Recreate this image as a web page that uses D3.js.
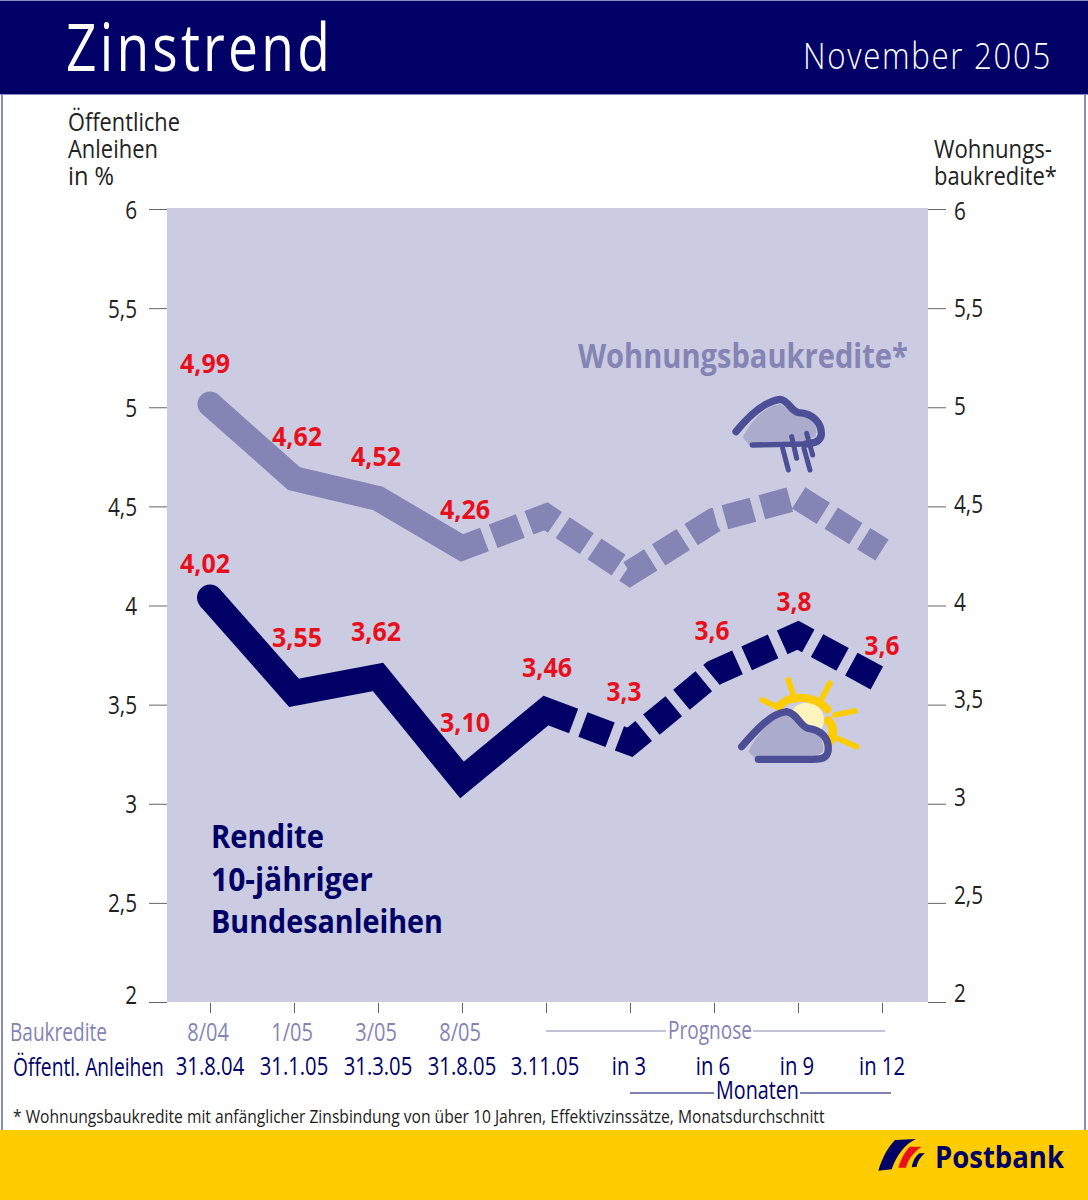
<!DOCTYPE html>
<html><head><meta charset="utf-8">
<script src="https://cdn.jsdelivr.net/npm/d3@7"></script>
<style>html,body{margin:0;padding:0;background:#fff}svg{display:block}text{font-family:"Open Sans",sans-serif}</style>
</head><body><svg id="c" width="1088" height="1200"></svg>
<script>
// ---- data ----
const periods = ["8/04","1/05","3/05","8/05","3.11.05","in 3","in 6","in 9","in 12"];
const baukrediteDates = ["8/04","1/05","3/05","8/05"];
const anleihenDates = ["31.8.04","31.1.05","31.3.05","31.8.05","3.11.05","in 3","in 6","in 9","in 12"];
const wohnungValues = [5.016,4.64,4.54,4.29,4.45,4.165,4.43,4.545,4.28];
const bundValues = [4.04,3.56,3.64,3.12,3.47,3.31,3.66,3.85,3.62];
const wohnungLabels = ["4,99","4,62","4,52","4,26"];
const bundLabels = ["4,02","3,55","3,62","3,10","3,46","3,3","3,6","3,8","3,6"];
const yTicks = [2,2.5,3,3.5,4,4.5,5,5.5,6];

// ---- layout (kept apart from the data) ----
const NAVY="#000066", LILAC="#8484B5", BG="#CBCCE1", RED="#E8101C", YEL="#FFCC00", INK="#222", OUT="#4D4F96", CLOUD="#ABACCB";
const wohnungLabelPos = [[-5,-31],[3,-33],[-2,-32],[3,-29]];
const bundLabelPos = [[-5,-25],[3,-46],[-2,-36],[3,-48],[1,-34],[-6,-41],[-2,-33],[-4,-24],[0,-26]];
const svg = d3.select("#c");
const x = d3.scalePoint().domain(d3.range(periods.length)).range([210,882]);
const y = d3.scaleLinear().domain([2,6]).range([1002,209]);
const yLabelR = d3.scaleLinear().domain([2,6]).range([992,210]);

// text drawn condensed to a given width by a horizontal scale
function txt(px,py,s,size,o={}){
  const t = svg.append("text").text(s)
    .attr("font-size",size).attr("fill",o.fill||INK).attr("font-weight",o.weight||400)
    .attr("text-anchor",o.anchor||"start");
  if(o.ls) t.attr("letter-spacing",o.ls);
  const n = t.node().getComputedTextLength();
  const sx = o.w ? o.w/n : (o.f||0.85);
  t.attr("transform",`translate(${px},${py}) scale(${sx},1)`);
  return t;
}

// frame
svg.append("rect").attr("x",1).attr("y",94).attr("width",2).attr("height",1040).attr("fill","#8A8ABF");
svg.append("rect").attr("x",1084).attr("y",94).attr("width",2).attr("height",1040).attr("fill","#8A8ABF");
svg.append("rect").attr("x",0).attr("y",0).attr("width",1088).attr("height",95).attr("fill",NAVY);
svg.append("rect").attr("x",0).attr("y",0).attr("width",1088).attr("height",1).attr("fill","#8A8ABF");
svg.append("rect").attr("x",0).attr("y",94).attr("width",1088).attr("height",1).attr("fill","#8A8ABF");
svg.append("rect").attr("x",0).attr("y",1130).attr("width",1088).attr("height",70).attr("fill",YEL);
txt(66,71,"Zinstrend",66,{fill:"#fff",w:267,ls:4});
txt(803,69,"November 2005",37,{fill:"#fff",w:249,weight:300,ls:2});

// plot background
svg.append("rect").attr("x",167).attr("y",208).attr("width",761).attr("height",794).attr("fill",BG);

// axes
const fmt = d => String(d).replace(".",",");
const axL = svg.append("g").attr("transform","translate(167,0)").call(d3.axisLeft(y).tickValues(yTicks).tickSize(18).tickPadding(12).tickFormat(fmt));
const axR = svg.append("g").attr("transform","translate(928,0)").call(d3.axisRight(y).tickValues(yTicks).tickSize(18).tickPadding(8).tickFormat(fmt));
const axB = svg.append("g").attr("transform","translate(0,1003)").call(d3.axisBottom(x).tickSize(10).tickFormat(""));
[axL,axR,axB].forEach(a=>{a.select(".domain").remove();a.selectAll("line").attr("stroke","#666").attr("stroke-width",1);});
[axL,axR].forEach(a=>a.selectAll("text").attr("font-size",25).attr("fill",INK).attr("font-family",'"Open Sans",sans-serif').attr("dy","0.36em"));
axL.selectAll("text").attr("x",0).attr("transform",d=>`translate(-30,${d===2?-8:0}) scale(0.83,1)`);
axR.selectAll("text").attr("x",0).attr("transform",d=>`translate(26,${yLabelR(d)-y(d)}) scale(0.83,1)`);

// axis titles
txt(68,131,"Öffentliche",25,{w:112});
txt(68,158,"Anleihen",25,{w:90});
txt(68,185,"in %",25,{w:46});
txt(934,158,"Wohnungs-",25,{w:118});
txt(934,185,"baukredite*",25,{w:123});

// series: one path, solid up to the forecast, then dashed
const lineGen = d3.line().x((d,i)=>x(i)).y(d=>y(d));
function series(vals,nSolid,stub,gap,width,color){
  const probe = svg.append("path").attr("d",lineGen(vals.slice(0,nSolid)));
  const solid = probe.node().getTotalLength(); probe.remove();
  const dash=[solid+stub];
  for(let i=0;i<30;i++){dash.push(gap,29);}
  dash.push(gap);
  svg.append("path").attr("d",lineGen(vals)).attr("fill","none").attr("stroke",color)
    .attr("stroke-width",width).attr("stroke-linejoin","miter").attr("stroke-miterlimit",6)
    .attr("stroke-dasharray",dash.join(" "));
  svg.append("circle").attr("cx",x(0)).attr("cy",y(vals[0])).attr("r",width/2).attr("fill",color);
}
series(wohnungValues,4,24,9.3,25,LILAC);
series(bundValues,5,29.5,10,26,NAVY);

// value labels
wohnungLabels.forEach((s,i)=>txt(x(i)+wohnungLabelPos[i][0],y(wohnungValues[i])+wohnungLabelPos[i][1],s,27,{fill:RED,weight:700,anchor:"middle",w:s.length>3?50:35}));
bundLabels.forEach((s,i)=>txt(x(i)+bundLabelPos[i][0],y(bundValues[i])+bundLabelPos[i][1],s,27,{fill:RED,weight:700,anchor:"middle",w:s.length>3?50:35}));

// in-plot titles
txt(578,368,"Wohnungsbaukredite*",34,{fill:LILAC,weight:700,w:330});
txt(211,848,"Rendite",33,{fill:NAVY,weight:700,w:113});
txt(211,891,"10-jähriger",33,{fill:NAVY,weight:700,w:162});
txt(211,933,"Bundesanleihen",33,{fill:NAVY,weight:700,w:232});

// bottom rows
txt(10,1041,"Baukredite",25,{fill:LILAC,w:97});
baukrediteDates.forEach((s,i)=>txt(x(i)-2,1041,s,25,{fill:LILAC,anchor:"middle",f:0.8}));
txt(13,1076,"Öffentl. Anleihen",25,{fill:NAVY,w:151});
anleihenDates.forEach((s,i)=>txt(x(i)+(i<4?0:i===8?0:-1),1075,s,25,{fill:NAVY,anchor:"middle",f:0.81}));
svg.append("path").attr("d",`M${x(4)} 1031H666M753 1031H${x(8)+3}`).attr("stroke",LILAC).attr("fill","none");
txt(668,1039,"Prognose",25,{fill:LILAC,w:84});
svg.append("path").attr("d",`M${x(5)} 1093H714M800 1093H891`).attr("stroke",NAVY).attr("fill","none");
txt(716,1099,"Monaten",25,{fill:NAVY,w:83});
txt(13,1123,"* Wohnungsbaukredite mit anfänglicher Zinsbindung von über 10 Jahren, Effektivzinssätze, Monatsdurchschnitt",19,{w:812});

// rain-cloud icon
const rain = svg.append("g").attr("transform","translate(700,380) scale(0.3333)").attr("fill","none").attr("stroke-linecap","round").attr("stroke-linejoin","round");
rain.append("path").attr("d","M128 172C150 130 190 78 240 72C270 88 280 102 300 106C340 106 356 140 346 170L300 186L150 198Z").attr("fill",CLOUD);
rain.append("path").attr("d","M108 155C140 115 190 65 240 58C268 62 272 94 296 98C340 100 366 130 364 165C360 186 340 190 318 192").attr("stroke",OUT).attr("stroke-width",22);
rain.append("path").attr("d","M318 192L157 195").attr("stroke",OUT).attr("stroke-width",16);
[[275,170,290,235],[320,160,338,225],[248,205,265,270],[312,205,330,270]].forEach(l=>
  rain.append("line").attr("x1",l[0]).attr("y1",l[1]).attr("x2",l[2]).attr("y2",l[3]).attr("stroke",OUT).attr("stroke-width",15));

// sun-cloud icon
const sun = svg.append("g").attr("transform","translate(700,380) scale(0.3333)").attr("fill","none").attr("stroke-linecap","round").attr("stroke-linejoin","round");
sun.append("circle").attr("cx",320).attr("cy",1020).attr("r",52).attr("fill","#FFF4BE");
[[265,900,285,960],[390,910,360,965],[187,960,240,985],[405,1005,465,993],[412,1075,470,1100]].forEach(l=>
  sun.append("line").attr("x1",l[0]).attr("y1",l[1]).attr("x2",l[2]).attr("y2",l[3]).attr("stroke",YEL).attr("stroke-width",17));
sun.append("path").attr("d","M240 975C280 940 350 950 382 988").attr("stroke",YEL).attr("stroke-width",24);
sun.append("path").attr("d","M385 1022C403 1040 403 1070 385 1090").attr("stroke",YEL).attr("stroke-width",26);
sun.append("path").attr("d","M145 1115C165 1070 215 1010 260 1005C290 1012 305 1045 328 1050C360 1060 375 1085 368 1115L340 1135L170 1140Z").attr("fill",CLOUD);
sun.append("path").attr("d","M125 1100C160 1060 210 1000 260 995C292 1000 300 1040 325 1045C365 1050 385 1075 385 1105C385 1132 370 1138 340 1138L175 1138").attr("stroke",OUT).attr("stroke-width",22);

// logo
const logo = svg.append("g").attr("transform","translate(870,1130) scale(0.3333)");
logo.append("path").attr("d","M25 122C38 80 55 50 75 30L138 27C105 42 80 75 65 118Z").attr("fill",NAVY);
logo.append("path").attr("d","M85 113L108 113C113 92 128 68 155 50L120 50C103 66 92 90 85 113Z").attr("fill","#E8101C");
logo.append("path").attr("d","M125 112L140 110C143 95 150 82 165 70L148 70C135 80 128 95 125 112Z").attr("fill",NAVY);
txt(935,1168,"Postbank",31,{fill:NAVY,weight:700,w:129});
</script></body></html>
